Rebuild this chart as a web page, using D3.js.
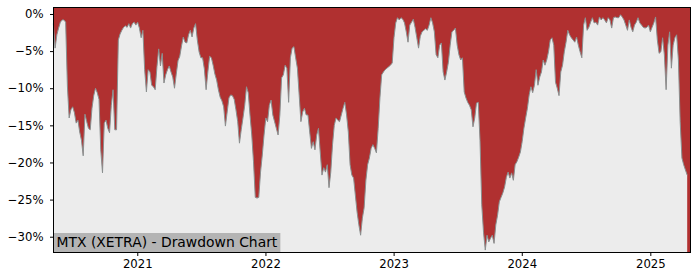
<!DOCTYPE html>
<html><head><meta charset="utf-8">
<script src="https://cdn.jsdelivr.net/npm/d3@7"></script>
<style>html,body{margin:0;padding:0;background:#fff;} svg{display:block;font-family:"DejaVu Sans",sans-serif;}</style>
</head><body><svg id="chart" width="700" height="280"></svg>
<script>
const titleText = "MTX (XETRA) - Drawdown Chart";
const startDate = "2020-05-07";
const stepDays = 5;
const drawdown = [
 -1.3,-4.6,-2.8,-1.9,-1.1,-0.8,-0.8,-1.1,-9.7,
 -14.0,-12.9,-12.5,-13.3,-14.7,-14.3,-15.9,-17.0,-19.1,-13.5,-14.5,-15.4,-15.6,-12.7,-11.0,-10.0,-10.6,-11.5,
 -18.3,-21.4,-14.7,-14.3,-15.4,-16.0,-12.3,-10.2,-15.6,-15.6,-3.5,-2.7,-2.2,-1.8,-1.6,-1.8,-1.3,-1.9,
 -1.3,-1.1,-1.5,-1.1,-1.9,-3.2,-2.2,-7.5,-10.5,-7.5,-7.8,-9.6,-9.8,-10.2,-7.1,-4.7,-7.0,-5.3,
 -9.3,-8.2,-7.5,-7.0,-7.8,-8.5,-10.0,-8.1,-6.3,-5.7,-4.3,-3.1,-3.8,-3.9,-2.8,-2.2,-3.1,
 -1.9,-1.3,-3.5,-5.1,-5.9,-5.9,-7.4,-10.2,-7.8,-5.7,-5.9,-6.9,-8.1,-8.9,-10.2,-11.2,-11.7,-12.5,
 -15.1,-13.2,-11.3,-10.9,-11.0,-11.5,-12.9,-14.5,-17.4,-15.6,-14.0,-12.3,-9.8,-10.6,-13.6,-16.3,-19.9,-24.7,
 -24.8,-24.7,-21.3,-19.0,-16.3,-14.0,-14.5,-12.3,-11.6,-13.6,-14.5,-15.4,-16.3,-13.6,-8.6,-8.2,-6.9,-7.3,-11.9,
 -5.9,-4.6,-4.4,-5.9,-7.3,-10.9,-14.5,-13.2,-12.7,-13.6,-13.6,-15.9,-18.1,-17.2,-18.3,-16.3,
 -15.4,-18.6,-21.7,-20.7,-21.3,-20.3,-23.4,-21.3,-17.6,-15.0,-14.0,-14.3,-14.5,-13.6,-12.7,-11.9,-13.6,-15.9,
 -20.3,-21.7,-22.1,-24.4,-26.7,-28.4,-29.8,-27.5,-26.1,-22.4,-20.3,-19.4,-18.1,-17.6,-18.1,-18.7,-15.4,-11.3,
 -8.2,-7.8,-7.5,-7.3,-7.1,-6.9,-6.6,-3.2,-1.2,-0.5,-0.8,-0.5,-0.7,-1.2,-2.4,-3.8,-1.5,
 -1.1,-0.7,-1.8,-3.2,-4.6,-3.0,-2.4,-2.2,-2.0,-2.2,-1.5,-0.5,-1.2,-2.4,-5.5,-5.9,-4.2,-3.9,
 -7.8,-8.9,-7.8,-6.5,-4.2,-2.4,-2.2,-1.9,-4.2,-5.5,-6.2,-5.9,-10.5,-11.3,-11.9,-12.3,-12.9,
 -15.2,-14.0,-12.0,-11.9,-17.0,-25.7,-29.4,-31.8,-29.8,-30.7,-30.2,-29.8,-30.9,-28.4,-27.1,-25.3,-24.7,-24.1,-23.3,
 -22.0,-21.3,-22.1,-21.4,-22.4,-20.3,-19.9,-19.3,-18.6,-17.2,-15.4,-14.0,-12.7,-10.9,-9.8,-10.6,-9.6,
 -7.5,-9.6,-8.5,-7.8,-6.2,-6.9,-6.2,-5.1,-3.5,-3.2,-4.2,-9.2,-10.0,-11.0,-7.8,-6.9,-5.1,-3.8,-2.2,
 -2.8,-3.2,-3.5,-3.8,-3.1,-4.2,-5.1,-5.9,-1.5,-0.5,-2.2,-1.8,-1.1,-0.5,-1.2,-1.1,-1.5,
 -0.4,-0.8,-0.5,-0.8,-1.2,-0.5,-0.8,-1.9,-0.5,-0.4,-0.5,-0.5,-0.1,-0.4,-0.8,-1.5,-2.2,-0.8,
 -1.8,-2.4,-1.5,-1.1,-0.5,-1.2,-1.5,-1.8,-1.9,-1.8,-1.5,-2.4,-1.8,-1.2,-0.4,-3.5,-5.3,
 -5.1,-3.2,-5.5,-10.2,-4.2,-2.4,-7.3,-4.2,-3.2,-2.8,-6.2,-14.5,-19.4,-20.3,-21.0,-21.7
];
const yTicks = [0, -5, -10, -15, -20, -25, -30];
const xTickYears = [2021, 2022, 2023, 2024, 2025];
const xDomain = ["2020-05-06", "2025-04-24"];
const yDomain = [-32.1, 0.9];

const parse = d3.timeParse("%Y-%m-%d");
const t0 = parse(startDate);
const data = drawdown.map((v, i) => ({date: d3.timeDay.offset(t0, i * stepDays), v}));

const L = 53, R = 690, T = 7.3, B = 252.3;
const x = d3.scaleTime().domain(xDomain.map(parse)).range([L, R]);
const y = d3.scaleLinear().domain(yDomain).range([B, T]);

const svg = d3.select("#chart");
svg.append("rect").attr("width", 700).attr("height", 280).attr("fill", "#fff");
svg.append("rect").attr("x", L).attr("y", T).attr("width", R - L).attr("height", B - T).attr("fill", "#b03030");

const area = d3.area().x(d => x(d.date)).y0(B).y1(d => y(d.v));
svg.append("path").datum(data).attr("d", area).attr("fill", "#ececec");
const line = d3.line().x(d => x(d.date)).y(d => y(d.v));
svg.append("path").datum(data).attr("d", line).attr("fill", "none").attr("stroke", "#8a8f8f").attr("stroke-width", 1);

// title box
const tg = svg.append("g");
const tb = tg.append("text").attr("x", 56.5).attr("y", 247).attr("font-size", 13.9).attr("fill", "#000").text(titleText);
const bb = tb.node().getBBox();
tg.insert("rect", "text").attr("x", L).attr("y", 233).attr("width", bb.x + bb.width + 2.5 - L).attr("height", B - 233).attr("fill", "#b4b4b4");

// spines
svg.append("rect").attr("x", 53.5).attr("y", 7.5).attr("width", 637).attr("height", 245).attr("fill", "none").attr("stroke", "#000").attr("stroke-width", 1);

const fmtPct = d => (d < 0 ? "\u2212" : "") + Math.abs(d) + "%";
const yAxis = d3.axisLeft(y).tickValues(yTicks).tickSize(3.5).tickPadding(6.5).tickFormat(fmtPct);
const gy = svg.append("g").attr("transform", "translate(53.5,0)").call(yAxis);
gy.select(".domain").remove();
gy.selectAll("text").attr("font-size", 11.7).attr("font-family", "DejaVu Sans").attr("fill", "#000");
gy.selectAll("line").attr("stroke", "#000");

const xAxis = d3.axisBottom(x).tickValues(xTickYears.map(yr => new Date(yr, 0, 1))).tickSize(3.5).tickPadding(3.5).tickFormat(d3.timeFormat("%Y"));
const gx = svg.append("g").attr("transform", "translate(0,252.5)").call(xAxis);
gx.select(".domain").remove();
gx.selectAll("text").attr("font-size", 11.7).attr("font-family", "DejaVu Sans").attr("fill", "#000");
gx.selectAll("line").attr("stroke", "#000");
</script>
</body></html>
